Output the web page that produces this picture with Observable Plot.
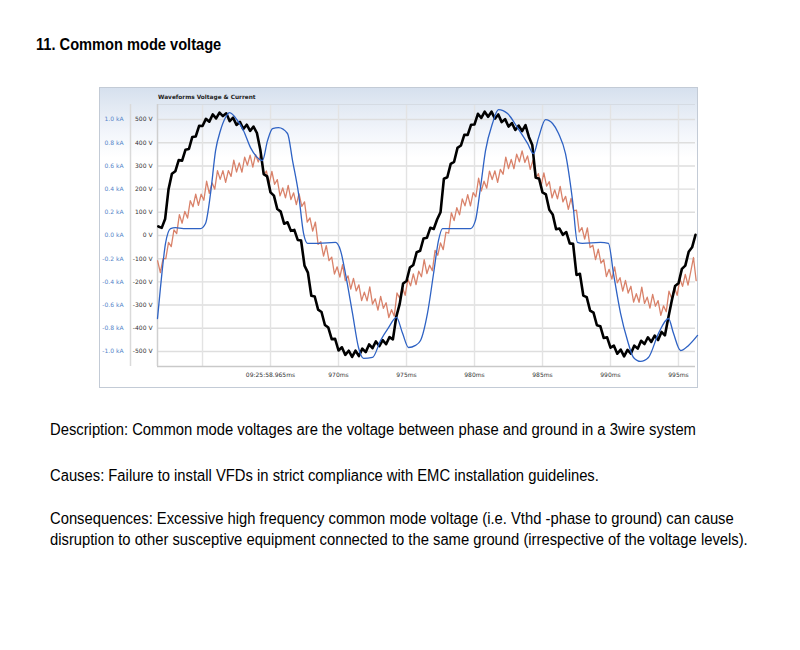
<!DOCTYPE html>
<html><head><meta charset="utf-8">
<script src="https://cdn.jsdelivr.net/npm/d3@7"></script>
<script src="https://cdn.jsdelivr.net/npm/@observablehq/plot@0.6"></script>
<style>
body{margin:0;background:#fff;width:800px;height:650px;position:relative;overflow:hidden;font-family:"Liberation Sans",Arial,sans-serif;color:#000;}
#title{position:absolute;left:36px;top:35px;font-weight:bold;font-size:17px;line-height:20px;white-space:nowrap;transform:scaleX(0.86);transform-origin:0 0;}
.p{position:absolute;left:50px;font-size:16px;line-height:21px;white-space:nowrap;transform:scaleX(0.924);transform-origin:0 0;}
#box{position:absolute;left:99px;top:87px;width:597px;height:299px;border:1px solid #c3cbd6;background:linear-gradient(to bottom,#d6e0ee 0px,#e2e9f3 18px,#f3f6fb 45px,#ffffff 70px);}
#ctitle{position:absolute;left:58px;top:6px;font:bold 5.8px "DejaVu Sans",Verdana,sans-serif;color:#222;white-space:nowrap;}
#plot{position:absolute;left:0;top:0;}
</style></head>
<body>
<div id="title">11. Common mode voltage</div>
<div id="box"><div id="plot"></div><div id="ctitle">Waveforms Voltage &amp; Current</div></div>
<div class="p" style="top:419px">Description: Common mode voltages are the voltage between phase and ground in a 3wire system</div>
<div class="p" style="top:465px">Causes: Failure to install VFDs in strict compliance with EMC installation guidelines.</div>
<div class="p" style="top:508px">Consequences: Excessive high frequency common mode voltage (i.e. Vthd -phase to ground) can cause<br>disruption to other susceptive equipment connected to the same ground (irrespective of the voltage levels).</div>
<script>
// ---- axis / tick data ----
const xDomain = [956.69, 996.25];             // ms
const yDomain = [-565, 565];                  // V
const vTicks = [500, 400, 300, 200, 100, 0, -100, -200, -300, -400, -500];
const vLabels = ["500 V","400 V","300 V","200 V","100 V","0 V","-100 V","-200 V","-300 V","-400 V","-500 V"];
const kALabels = ["1.0 kA","0.8 kA","0.6 kA","0.4 kA","0.2 kA","0.0 kA","-0.2 kA","-0.4 kA","-0.6 kA","-0.8 kA","-1.0 kA"];
const xGrid = [960, 965, 970, 975, 980, 985, 990, 995];
const xTicks = [965, 970, 975, 980, 985, 990, 995];
const xLabels = ["09:25:58.965ms","970ms","975ms","980ms","985ms","990ms","995ms"];

// ---- black trace (phase voltage), sampled every 0.25 ms from 956.75 ms ----
const blackT0 = 956.75, blackDt = 0.25;
const blackV = [39,33,71,199,266,277,325,323,370,373,425,427,473,472,503,491,522,505,530,515,527,493,508,477,490,459,478,451,470,442,
370,265,255,186,172,114,103,51,57,20,24,-19,-22,-130,-160,-260,-263,-320,-330,-386,-397,-447,-446,-496,-482,-515,-497,-524,-497,-520,
-488,-503,-470,-486,-457,-477,-451,-469,-438,-448,-350,-295,-207,-196,-138,-127,-72,-66,-13,-10,33,28,69,100,245,251,309,318,378,388,
434,434,478,479,525,507,534,512,534,504,522,489,502,470,485,455,474,450,476,425,390,250,245,186,177,111,91,27,30,3,15,-34,-36,-170,
-165,-259,-266,-324,-333,-387,-391,-442,-439,-484,-475,-510,-492,-521,-493,-509,-475,-488,-454,-468,-439,-459,-432,-451,-416,-431,-355,-282,-218,-206,
-144,-130,-70,-51,3];

// ---- orange trace (noisy), sampled every 0.2 ms from 956.7 ms ----
const orangeT0 = 956.7, orangeDt = 0.2;
const orangeV = [-109,-160,-100,-100,-30,-48,24,8,90,53,104,75,150,124,178,130,178,152,234,182,
227,200,280,242,280,229,280,255,325,274,313,273,338,303,347,295,349,317,355,262,
278,223,276,221,241,171,205,162,216,155,184,133,180,126,145,58,76,19,58,-38,
-27,-89,-44,-108,-93,-166,-135,-179,-126,-195,-174,-231,-185,-239,-213,-281,-244,-282,-222,-296,
-273,-322,-263,-314,-290,-354,-320,-348,-248,-270,-224,-258,-189,-217,-166,-212,-154,-178,-104,-164,
-128,-152,-64,-85,-32,-61,14,10,98,64,120,89,158,128,176,128,185,167,247,192,
234,204,278,241,279,229,285,264,338,289,328,288,351,318,365,315,343,285,325,246,
267,215,270,213,232,162,197,158,212,145,169,113,160,106,109,15,34,-15,33,-52,
-42,-104,-59,-119,-104,-177,-146,-188,-135,-204,-182,-240,-194,-248,-219,-287,-251,-288,-223,-293,
-266,-313,-254,-305,-281,-344,-303,-329,-240,-272,-224,-258,-188,-219,-168,-214,-156,-95,-195];

// ---- blue trace (current, smooth) ----
const blueT = [956.69,956.91,957.28,957.65,958.01,958.6,959.85,960.22,960.59,960.96,961.32,961.69,961.99,962.57,963.01,963.53,964.04,964.41,964.78,965.15,
965.59,966.25,966.62,967.06,967.43,967.72,968.53,969.78,970.15,970.51,971.03,971.47,971.84,972.5,973.09,973.68,974.26,974.71,975.15,975.66,
976.03,976.54,976.99,977.35,977.65,978.46,979.71,980.07,980.44,980.81,981.32,981.76,982.43,983.16,983.9,984.34,984.71,985.22,985.74,986.18,
986.69,987.21,987.57,987.94,989.26,989.85,990.22,990.74,991.25,991.69,992.21,992.79,993.53,994.26,994.63,995.15,995.74,996.4];
const blueV = [-358,-224,-34,30,34,30,30,52,181,366,453,509,530,496,453,379,336,323,409,461,
465,440,323,181,9,-34,-34,-30,-65,-164,-336,-483,-530,-526,-453,-397,-353,-422,-483,-474,
-453,-336,-164,-22,30,30,30,65,207,366,483,543,526,465,397,353,422,500,483,440,
353,151,-30,-34,-30,-34,-164,-336,-453,-526,-543,-526,-422,-358,-422,-496,-474,-431];

const black = blackV.map((v, i) => ({t: blackT0 + i * blackDt, v}));
const orange = orangeV.map((v, i) => ({t: orangeT0 + i * orangeDt, v}));
const blue = blueV.map((v, i) => ({t: blueT[i], v}));

const vLab = new Map(vTicks.map((d, i) => [d, vLabels[i]]));
const kLab = new Map(vTicks.map((d, i) => [d, kALabels[i]]));
const xLab = new Map(xTicks.map((d, i) => [d, xLabels[i]]));

const chart = Plot.plot({
  width: 597, height: 299,
  marginLeft: 57, marginTop: 16, marginRight: 2, marginBottom: 21,
  style: {background: "transparent", fontFamily: "DejaVu Sans, Verdana, sans-serif", fontSize: "6px", overflow: "visible", color: "#333"},
  x: {domain: xDomain},
  y: {domain: yDomain},
  marks: [
    Plot.gridY(vTicks, {stroke: "#dedede", strokeOpacity: 1, strokeWidth: 1.4}),
    Plot.gridX(xGrid, {stroke: "#e3e3e3", strokeOpacity: 1, strokeWidth: 1.4}),
    Plot.ruleY([yDomain[1]], {stroke: "#d5dbe3", strokeWidth: 1}),
    Plot.ruleY([yDomain[0]], {stroke: "#c9c9c9", strokeWidth: 1.5}),
    Plot.ruleX([xDomain[0]], {stroke: "#cfcfcf", strokeWidth: 1.5}),
    Plot.ruleX([xDomain[0]], {stroke: "#dadada", strokeWidth: 1.5, dx: -27}),
    Plot.axisY(vTicks, {tickFormat: d => vLab.get(d), tickSize: 0, tickPadding: 5, fill: "#333", label: null}),
    Plot.axisY(vTicks, {tickFormat: d => kLab.get(d), tickSize: 0, tickPadding: 5, dx: -29, fill: "#5483c9", label: null}),
    Plot.axisX(xTicks, {tickFormat: d => xLab.get(d), tickSize: 0, tickPadding: 6, fill: "#333", label: null}),
    Plot.line(orange, {x: "t", y: "v", stroke: "#d9826a", strokeWidth: 1.3}),
    Plot.line(black, {x: "t", y: "v", stroke: "#000", strokeWidth: 2.6}),
    Plot.line(blue, {x: "t", y: "v", stroke: "#2e62c4", strokeWidth: 1.3, curve: "monotone-x"})
  ]
});
document.getElementById("plot").appendChild(chart);
</script>
</body></html>
